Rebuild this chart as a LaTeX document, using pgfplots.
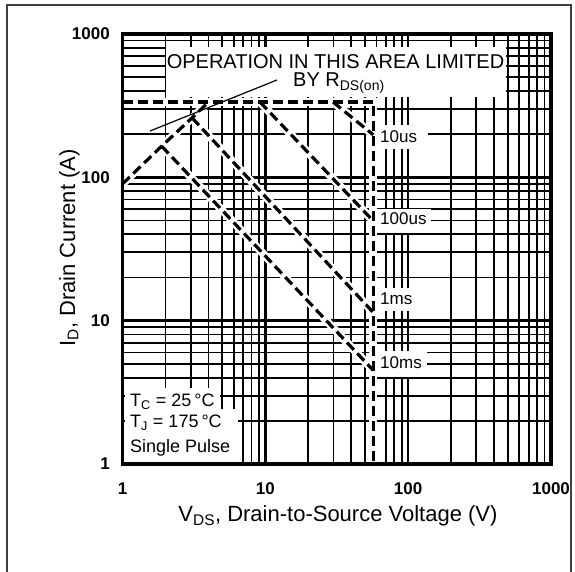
\documentclass[border=0pt]{standalone}
\usepackage{fontspec}
\setmainfont{Liberation Sans}
\usepackage{pgfplots}
\usepackage{pgfplotstable}
\pgfplotsset{compat=1.18}
\newcommand{\fs}[1]{\fontsize{#1}{#1}\selectfont}

\pgfplotstableread{
V I
1 335
57 335
57 1
}\limitdata
\pgfplotstableread{
V I
1 90
1.88 165
3.07 260
4.0 335
}\rdsdata
\pgfplotstableread{
V I
29.8 335
57 198
}\tenusdata
\pgfplotstableread{
V I
9.18 335
57 49.6
}\hundredusdata
\pgfplotstableread{
V I
3.07 260
57 11.4
}\onemsdata
\pgfplotstableread{
V I
1.88 165
57 4.5
}\tenmsdata

\pgfplotsset{
  halo/.style={white, line width=8pt, forget plot},
  soa/.style={black, line width=3.2pt, dash pattern=on 10pt off 5pt, forget plot},
}

\begin{document}
\begin{tikzpicture}[x=1pt,y=1pt]
\useasboundingbox (0,0) rectangle (575,572);
\draw[line width=1.2pt, black!75] (7,-3) -- (7,567) -- (571,567) -- (571,-3);
\begin{axis}[
  name=ax, at={(122.5pt,108pt)}, anchor=south west,
  width=428.5pt, height=430pt, scale only axis,
  xmode=log, ymode=log, xmin=1, xmax=1000, ymin=1, ymax=1000,
  xtick={1,10,100,1000}, xticklabels={1,10,100,1000},
  ytick={1,10,100,1000}, yticklabels={1,10,100,1000},
  minor xtick={2,3,4,5,6,7,8,9,20,30,40,50,60,70,80,90,200,300,400,500,600,700,800,900},
  minor ytick={2,3,4,5,6,7,8,9,20,30,40,50,60,70,80,90,200,300,400,500,600,700,800,900},
  grid=both,
  major grid style={line width=2.6pt, black},
  minor grid style={line width=1.8pt, black},
  major tick length=0pt, minor tick length=0pt,
  axis line style={draw=none},
  tick label style={font=\fs{17}\bfseries, inner sep=0pt},
  xticklabel style={anchor=base, yshift=-31pt},
  yticklabel style={anchor=east, xshift=-12.5pt},
]
\addplot[halo] table[x=V,y=I] {\limitdata};
\addplot[halo] table[x=V,y=I] {\rdsdata};
\addplot[halo] table[x=V,y=I] {\tenusdata};
\addplot[halo] table[x=V,y=I] {\hundredusdata};
\addplot[halo] table[x=V,y=I] {\onemsdata};
\addplot[halo] table[x=V,y=I] {\tenmsdata};
\addplot[soa] table[x=V,y=I] {\limitdata};
\addplot[soa] table[x=V,y=I] {\rdsdata};
\addplot[soa] table[x=V,y=I] {\tenusdata};
\addplot[soa] table[x=V,y=I] {\hundredusdata};
\addplot[soa] table[x=V,y=I] {\onemsdata};
\addplot[soa] table[x=V,y=I] {\tenmsdata};
\end{axis}
\begin{scope}[shift={(0,572)}, y=-1pt]
  % annotation boxes
  \fill[white] (166,47) rectangle (506,97);
  \node[anchor=base, font=\fs{20}, inner sep=0pt] at (335.5,68.5) {OPERATION IN THIS AREA LIMITED};
  \node[anchor=base west, font=\fs{20}, inner sep=0pt] at (293,87) {BY R\textsubscript{DS(on)}};
  \draw[line width=1.2pt] (277,80) -- (150,131);
  % pulse labels
  \fill[white] (376,125) rectangle (428,149);
  \fill[white] (376,209) rectangle (431,233);
  \fill[white] (376,288) rectangle (416,311);
  \fill[white] (376,351) rectangle (427,377);
  \node[anchor=base west, font=\fs{17}, inner sep=0pt] at (380,143) {10us};
  \node[anchor=base west, font=\fs{17}, inner sep=0pt] at (380,225) {100us};
  \node[anchor=base west, font=\fs{17}, inner sep=0pt] at (380,305) {1ms};
  \node[anchor=base west, font=\fs{17}, inner sep=0pt] at (380,369) {10ms};
  % conditions box
  \fill[white] (124.5,388) rectangle (220,411);
  \fill[white] (124.5,409) rectangle (238,462);
  \node[anchor=base west, font=\fs{18}, inner sep=0pt] at (130,407) {T\textsubscript{C} = 25\,°C};
  \node[anchor=base west, font=\fs{18}, inner sep=0pt] at (130,428) {T\textsubscript{J} = 175\,°C};
  \node[anchor=base west, font=\fs{18}, inner sep=0pt] at (130,453) {Single Pulse};
  % axis labels
  \node[anchor=base, font=\fs{22}, inner sep=0pt] at (338,522) {V\textsubscript{DS}, Drain-to-Source Voltage (V)};
  \node[anchor=base, rotate=90, font=\fs{22}, inner sep=0pt] at (75,248) {I\textsubscript{D}, Drain Current (A)};
  % frame
  \draw[line width=3.2pt] (122.5,464) rectangle (551,34);
\end{scope}
\end{tikzpicture}
\end{document}
